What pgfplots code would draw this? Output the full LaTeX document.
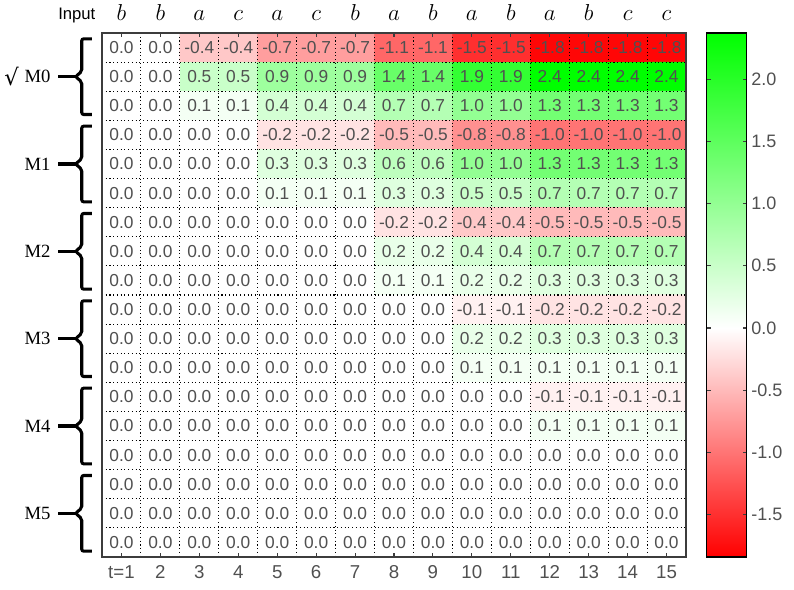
\documentclass[border=0pt]{standalone}
\usepackage{pgfplots}
\pgfplotsset{compat=1.18}
\usepackage{fontspec}
\setmainfont{Liberation Sans}
\newfontfamily\serif{Liberation Serif}
\newfontfamily\dejavu{DejaVu Sans}
\definecolor{txt}{RGB}{80,80,80}
\definecolor{frame}{RGB}{60,60,60}

\begin{document}
\begin{tikzpicture}
\begin{axis}[
  name=main,
  scale only axis, width=438pt, height=393pt,
  xmin=0.5, xmax=15.5, ymin=0.5, ymax=18.5, y dir=reverse,
  clip=false, axis on top,
  xtick={1,...,15},
  xticklabels={t=1,2,3,4,5,6,7,8,9,10,11,12,13,14,15},
  ytick={1,...,18}, yticklabels={}, ytick style={draw=none},
  tick align=inside, major tick length=3pt,
  minor xtick={1.5,2.5,...,14.5}, minor ytick={1.5,2.5,...,17.5},
  minor tick length=0pt,
  grid=minor,
  minor grid style={black, line width=0.8pt, dash pattern=on 0.8pt off 2pt},
  axis line style={frame, line width=1pt},
  tick style={frame, line width=0.8pt},
  xticklabel style={font=\fontsize{14}{14}\selectfont, text=txt, yshift=-3pt},
  colormap={rwg}{rgb255(0cm)=(255,0,0); rgb255(1.84cm)=(255,255,255); rgb255(4.21cm)=(0,255,0)},
  point meta min=-1.84, point meta max=2.37,
  colorbar,
  colorbar/width=30pt,
  colorbar style={
    xshift=6.5pt,
    ytick={-1.5,-1,...,2},
    yticklabel style={font=\fontsize{13.5}{14}\selectfont, text=txt,
      /pgf/number format/.cd, fixed, fixed zerofill, precision=1, assume math mode=true},
    tick align=inside, major tick length=3pt,
    axis line style={black, line width=0.8pt},
  },
]
\addplot[matrix plot*, mesh/cols=15, point meta=explicit,
  nodes near coords={\pgfmathprintnumber[fixed,fixed zerofill,precision=1,assume math mode=true]{\pgfplotspointmeta}},
  nodes near coords align=center,
  every node near coord/.append style={font=\fontsize{13}{13}\selectfont, text=txt, anchor=center}]
coordinates {
(1,1)[0] (2,1)[0] (3,1)[-0.4] (4,1)[-0.4] (5,1)[-0.7] (6,1)[-0.7] (7,1)[-0.7] (8,1)[-1.1] (9,1)[-1.1] (10,1)[-1.5] (11,1)[-1.5] (12,1)[-1.8] (13,1)[-1.8] (14,1)[-1.8] (15,1)[-1.8]
(1,2)[0] (2,2)[0] (3,2)[0.5] (4,2)[0.5] (5,2)[0.9] (6,2)[0.9] (7,2)[0.9] (8,2)[1.4] (9,2)[1.4] (10,2)[1.9] (11,2)[1.9] (12,2)[2.4] (13,2)[2.4] (14,2)[2.4] (15,2)[2.4]
(1,3)[0] (2,3)[0] (3,3)[0.1] (4,3)[0.1] (5,3)[0.4] (6,3)[0.4] (7,3)[0.4] (8,3)[0.7] (9,3)[0.7] (10,3)[1.0] (11,3)[1.0] (12,3)[1.3] (13,3)[1.3] (14,3)[1.3] (15,3)[1.3]
(1,4)[0] (2,4)[0] (3,4)[0] (4,4)[0] (5,4)[-0.2] (6,4)[-0.2] (7,4)[-0.2] (8,4)[-0.5] (9,4)[-0.5] (10,4)[-0.8] (11,4)[-0.8] (12,4)[-1.0] (13,4)[-1.0] (14,4)[-1.0] (15,4)[-1.0]
(1,5)[0] (2,5)[0] (3,5)[0] (4,5)[0] (5,5)[0.3] (6,5)[0.3] (7,5)[0.3] (8,5)[0.6] (9,5)[0.6] (10,5)[1.0] (11,5)[1.0] (12,5)[1.3] (13,5)[1.3] (14,5)[1.3] (15,5)[1.3]
(1,6)[0] (2,6)[0] (3,6)[0] (4,6)[0] (5,6)[0.1] (6,6)[0.1] (7,6)[0.1] (8,6)[0.3] (9,6)[0.3] (10,6)[0.5] (11,6)[0.5] (12,6)[0.7] (13,6)[0.7] (14,6)[0.7] (15,6)[0.7]
(1,7)[0] (2,7)[0] (3,7)[0] (4,7)[0] (5,7)[0] (6,7)[0] (7,7)[0] (8,7)[-0.2] (9,7)[-0.2] (10,7)[-0.4] (11,7)[-0.4] (12,7)[-0.5] (13,7)[-0.5] (14,7)[-0.5] (15,7)[-0.5]
(1,8)[0] (2,8)[0] (3,8)[0] (4,8)[0] (5,8)[0] (6,8)[0] (7,8)[0] (8,8)[0.2] (9,8)[0.2] (10,8)[0.4] (11,8)[0.4] (12,8)[0.7] (13,8)[0.7] (14,8)[0.7] (15,8)[0.7]
(1,9)[0] (2,9)[0] (3,9)[0] (4,9)[0] (5,9)[0] (6,9)[0] (7,9)[0] (8,9)[0.1] (9,9)[0.1] (10,9)[0.2] (11,9)[0.2] (12,9)[0.3] (13,9)[0.3] (14,9)[0.3] (15,9)[0.3]
(1,10)[0] (2,10)[0] (3,10)[0] (4,10)[0] (5,10)[0] (6,10)[0] (7,10)[0] (8,10)[0] (9,10)[0] (10,10)[-0.1] (11,10)[-0.1] (12,10)[-0.2] (13,10)[-0.2] (14,10)[-0.2] (15,10)[-0.2]
(1,11)[0] (2,11)[0] (3,11)[0] (4,11)[0] (5,11)[0] (6,11)[0] (7,11)[0] (8,11)[0] (9,11)[0] (10,11)[0.2] (11,11)[0.2] (12,11)[0.3] (13,11)[0.3] (14,11)[0.3] (15,11)[0.3]
(1,12)[0] (2,12)[0] (3,12)[0] (4,12)[0] (5,12)[0] (6,12)[0] (7,12)[0] (8,12)[0] (9,12)[0] (10,12)[0.1] (11,12)[0.1] (12,12)[0.1] (13,12)[0.1] (14,12)[0.1] (15,12)[0.1]
(1,13)[0] (2,13)[0] (3,13)[0] (4,13)[0] (5,13)[0] (6,13)[0] (7,13)[0] (8,13)[0] (9,13)[0] (10,13)[0] (11,13)[0] (12,13)[-0.1] (13,13)[-0.1] (14,13)[-0.1] (15,13)[-0.1]
(1,14)[0] (2,14)[0] (3,14)[0] (4,14)[0] (5,14)[0] (6,14)[0] (7,14)[0] (8,14)[0] (9,14)[0] (10,14)[0] (11,14)[0] (12,14)[0.1] (13,14)[0.1] (14,14)[0.1] (15,14)[0.1]
(1,15)[0] (2,15)[0] (3,15)[0] (4,15)[0] (5,15)[0] (6,15)[0] (7,15)[0] (8,15)[0] (9,15)[0] (10,15)[0] (11,15)[0] (12,15)[0] (13,15)[0] (14,15)[0] (15,15)[0]
(1,16)[0] (2,16)[0] (3,16)[0] (4,16)[0] (5,16)[0] (6,16)[0] (7,16)[0] (8,16)[0] (9,16)[0] (10,16)[0] (11,16)[0] (12,16)[0] (13,16)[0] (14,16)[0] (15,16)[0]
(1,17)[0] (2,17)[0] (3,17)[0] (4,17)[0] (5,17)[0] (6,17)[0] (7,17)[0] (8,17)[0] (9,17)[0] (10,17)[0] (11,17)[0] (12,17)[0] (13,17)[0] (14,17)[0] (15,17)[0]
(1,18)[0] (2,18)[0] (3,18)[0] (4,18)[0] (5,18)[0] (6,18)[0] (7,18)[0] (8,18)[0] (9,18)[0] (10,18)[0] (11,18)[0] (12,18)[0] (13,18)[0] (14,18)[0] (15,18)[0]
};

% model group brackets on the left
\pgfplotsinvokeforeach{0,1,2,3,4,5}{
  \draw[line width=2.3pt, rounded corners=1.5pt]
    (axis cs:0.24,{3*#1+0.7}) -- (axis cs:-0.02,{3*#1+0.7})
    -- (axis cs:-0.02,{3*#1+1.82}) -- (axis cs:-0.18,{3*#1+2})
    -- (axis cs:-0.02,{3*#1+2.18}) -- (axis cs:-0.02,{3*#1+3.3})
    -- (axis cs:0.24,{3*#1+3.3});
  \draw[line width=2.3pt] (axis cs:-0.15,{3*#1+2}) -- (axis cs:-0.62,{3*#1+2});
}
\node[anchor=east, font=\serif\fontsize{14}{14}\selectfont] at (axis cs:-0.7,2) {M0};
\node[inner sep=0pt, font=\dejavu\fontsize{17}{17}\selectfont] at (axis cs:-1.82,2) {√};
\node[anchor=east, font=\serif\fontsize{14}{14}\selectfont] at (axis cs:-0.7,5) {M1};
\node[anchor=east, font=\serif\fontsize{14}{14}\selectfont] at (axis cs:-0.7,8) {M2};
\node[anchor=east, font=\serif\fontsize{14}{14}\selectfont] at (axis cs:-0.7,11) {M3};
\node[anchor=east, font=\serif\fontsize{14}{14}\selectfont] at (axis cs:-0.7,14) {M4};
\node[anchor=east, font=\serif\fontsize{14}{14}\selectfont] at (axis cs:-0.7,17) {M5};
\node[anchor=base east, font=\fontsize{12.5}{13}\selectfont] at (axis cs:0.45,0.5) [yshift=10pt] {Input};
\end{axis}

% input symbols along the top
\begin{axis}[
  scale only axis, width=438pt, height=393pt,
  xmin=0.5, xmax=15.5, ymin=0, ymax=1,
  axis x line*=top, axis y line=none,
  x axis line style={draw=none},
  xtick={1,...,15}, major tick length=0pt,
  xticklabels={$b$,$b$,$a$,$c$,$a$,$c$,$b$,$a$,$b$,$a$,$b$,$a$,$b$,$c$,$c$},
  xticklabel style={font=\fontsize{17}{17}\selectfont, anchor=base, yshift=9pt},
  typeset ticklabels with strut,
]
\end{axis}
% page margins as in the reference
\path ([xshift=-76.5pt,yshift=-24.75pt]main.south west) rectangle ([xshift=81pt,yshift=24.75pt]main.north east);
\end{tikzpicture}
\end{document}
